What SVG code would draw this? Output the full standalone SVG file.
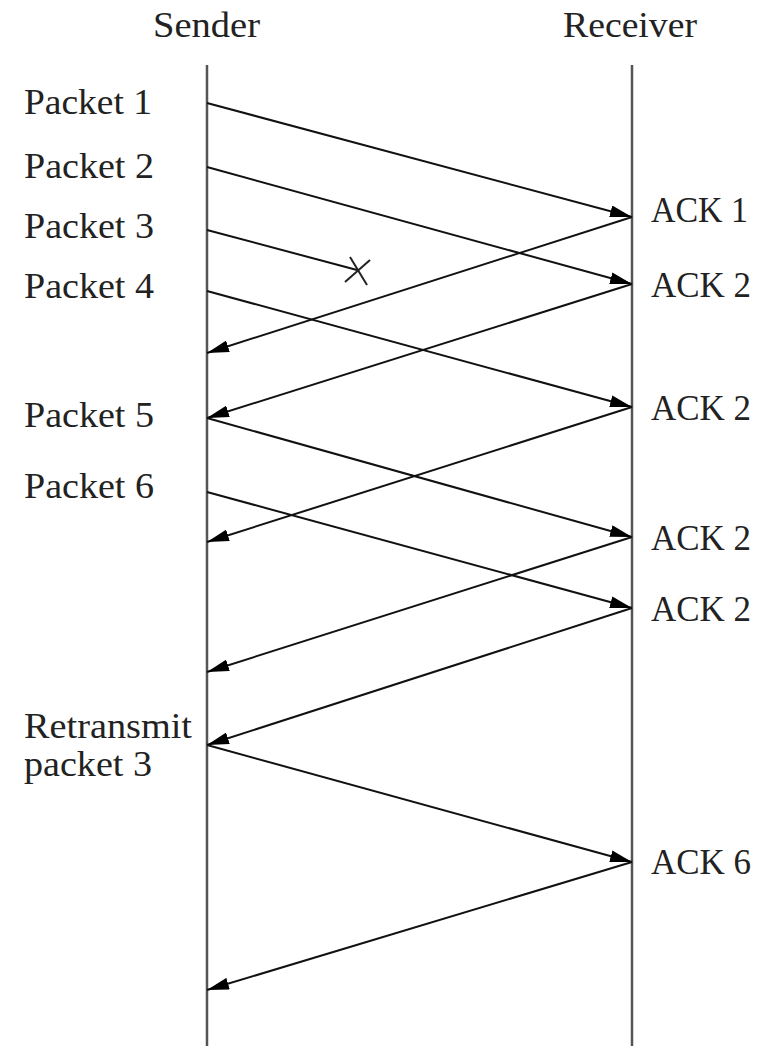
<svg xmlns="http://www.w3.org/2000/svg" width="773" height="1049" viewBox="0 0 773 1049">
<style>
  text { font-family: "Liberation Serif", "Times New Roman", serif; font-size: 36px; fill: #222; }
  .life { stroke: #555; stroke-width: 2.5; fill: none; }
  .msg { stroke: #111; stroke-width: 2; fill: none; marker-end: url(#ah); }
  .msg2 { stroke: #111; stroke-width: 2; fill: none; }
  .x { stroke: #222; stroke-width: 2; fill: none; }
</style>
<defs>
  <marker id="ah" markerUnits="userSpaceOnUse" markerWidth="24" markerHeight="12" refX="22" refY="6" orient="auto">
    <path d="M0,0 L22,6 L0,12 z" fill="#000"/>
  </marker>
</defs>
<rect width="773" height="1049" fill="#fff"/>
<g id="sender">
  <text x="153" y="37" textLength="107" lengthAdjust="spacingAndGlyphs">Sender</text>
  <line class="life" x1="207" y1="65" x2="207" y2="1046"/>
</g>
<g id="receiver">
  <text x="563" y="37" textLength="134" lengthAdjust="spacingAndGlyphs">Receiver</text>
  <line class="life" x1="632" y1="65" x2="632" y2="1046"/>
</g>
<g id="sender-labels">
  <text x="24" y="114" textLength="128" lengthAdjust="spacingAndGlyphs">Packet 1</text>
  <text x="24" y="178" textLength="130" lengthAdjust="spacingAndGlyphs">Packet 2</text>
  <text x="24" y="238" textLength="130" lengthAdjust="spacingAndGlyphs">Packet 3</text>
  <text x="24" y="298" textLength="130" lengthAdjust="spacingAndGlyphs">Packet 4</text>
  <text x="24" y="427" textLength="130" lengthAdjust="spacingAndGlyphs">Packet 5</text>
  <text x="24" y="498" textLength="130" lengthAdjust="spacingAndGlyphs">Packet 6</text>
  <text x="24" y="738" textLength="168" lengthAdjust="spacingAndGlyphs">Retransmit</text>
  <text x="24" y="776" textLength="128" lengthAdjust="spacingAndGlyphs">packet 3</text>
</g>
<g id="receiver-labels">
  <text x="651" y="222" textLength="97" lengthAdjust="spacingAndGlyphs">ACK 1</text>
  <text x="651" y="297" textLength="100" lengthAdjust="spacingAndGlyphs">ACK 2</text>
  <text x="651" y="420" textLength="100" lengthAdjust="spacingAndGlyphs">ACK 2</text>
  <text x="651" y="550" textLength="100" lengthAdjust="spacingAndGlyphs">ACK 2</text>
  <text x="651" y="621" textLength="100" lengthAdjust="spacingAndGlyphs">ACK 2</text>
  <text x="651" y="874" textLength="100" lengthAdjust="spacingAndGlyphs">ACK 6</text>
</g>
<g id="connectors">
  <line class="msg" x1="207" y1="103" x2="632" y2="217"/>
  <line class="msg" x1="207" y1="167" x2="632" y2="284"/>
  <line class="msg2" x1="207" y1="230" x2="357" y2="270"/>
  <line class="msg" x1="207" y1="291" x2="632" y2="407"/>
  <line class="msg" x1="632" y1="217" x2="207" y2="353"/>
  <line class="msg" x1="632" y1="284" x2="207" y2="418"/>
  <line class="msg" x1="207" y1="418" x2="632" y2="537"/>
  <line class="msg" x1="632" y1="407" x2="207" y2="542"/>
  <line class="msg" x1="207" y1="492" x2="632" y2="608"/>
  <line class="msg" x1="632" y1="537" x2="207" y2="672"/>
  <line class="msg" x1="632" y1="608" x2="207" y2="745"/>
  <line class="msg" x1="207" y1="745" x2="632" y2="862"/>
  <line class="msg" x1="632" y1="862" x2="207" y2="990"/>
</g>
<g id="loss-mark">
  <line class="x" x1="345" y1="282" x2="370" y2="260"/>
  <line class="x" x1="350" y1="257" x2="367" y2="285"/>
</g>
</svg>
